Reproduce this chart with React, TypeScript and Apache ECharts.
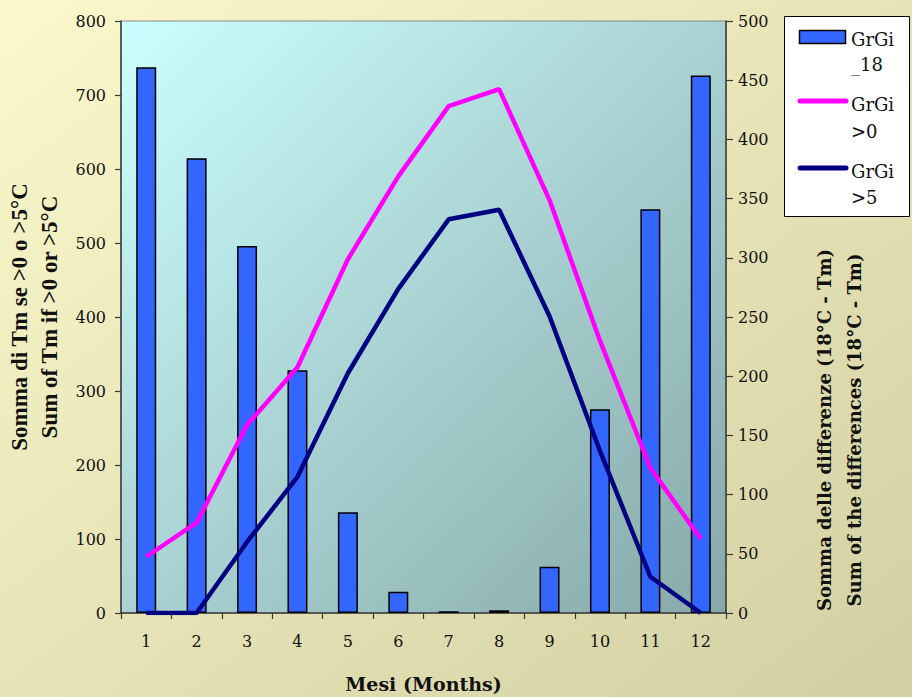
import React, { useEffect, useRef } from "react";
import * as echarts from "echarts";

const months = ["1", "2", "3", "4", "5", "6", "7", "8", "9", "10", "11", "12"];
// GrGi_18 : sum of (18°C - Tm), right axis
const grgi18 = [461, 384, 310, 205, 85, 18, 1.5, 2.3, 39, 172, 341, 454];
// GrGi>0 : sum of Tm if > 0, left axis
const grgiGt0 = [76, 122, 254, 332, 478, 590, 685, 708, 558, 368, 196, 100];
// GrGi>5 : sum of Tm if > 5, left axis
const grgiGt5 = [0, 0, 96, 184, 324, 438, 532, 545, 401, 219, 49, 0];

const leftTitle = ["Somma di Tm se >0 o >5°C", "Sum of Tm if >0 or >5°C"];
const rightTitle = ["Somma delle differenze (18°C - Tm)", "Sum of the differences (18°C - Tm)"];
const xTitle = "Mesi (Months)";
const legendNames = [["GrGi", "_18"], ["GrGi", ">0"], ["GrGi", ">5"]];

const SERIF = "'DejaVu Serif', serif";
const TIMES = "'Liberation Serif', serif";

export default function App() {
  const ref = useRef<HTMLDivElement>(null);
  useEffect(() => {
    document.body.style.margin = "0";
    const chart = echarts.init(ref.current!, null, { renderer: "svg" });
    const axisLine = { show: true, lineStyle: { color: "#3a3a3a", width: 1.5 } };
    const tick = { show: true, length: 6, lineStyle: { color: "#3a3a3a", width: 1.2 } };
    const labelStyle = { color: "#111", fontFamily: SERIF, fontSize: 16 };
    const legendText = (t: string, y: number) => ({
      type: "text",
      x: 851,
      y,
      style: { text: t, font: `18px ${SERIF}`, fill: "#111", verticalAlign: "middle" },
    });
    chart.setOption({
      animation: false,
      backgroundColor: new echarts.graphic.LinearGradient(0, 0, 1, 1, [
        { offset: 0, color: "#FBF9CC" },
        { offset: 1, color: "#D2CFA2" },
      ]),
      grid: {
        left: 121,
        top: 21,
        right: 186,
        bottom: 84,
        containLabel: false,
        outerBoundsMode: "none",
        show: true,
        borderColor: "#888",
        borderWidth: 1,
        backgroundColor: new echarts.graphic.LinearGradient(0, 0, 1, 1, [
          { offset: 0, color: "#CCFFFF" },
          { offset: 0.5, color: "#AAD2D2" },
          { offset: 1, color: "#86A8A8" },
        ]),
      },
      xAxis: {
        type: "category",
        data: months,
        boundaryGap: true,
        axisLine,
        axisTick: tick,
        axisLabel: { ...labelStyle, margin: 20 },
        name: xTitle,
        nameLocation: "middle",
        nameGap: 59,
        nameTextStyle: { color: "#111", fontFamily: SERIF, fontSize: 19, fontWeight: "bold", lineHeight: 24 },
        splitLine: { show: false },
      },
      yAxis: [
        {
          type: "value",
          min: 0,
          max: 800,
          interval: 100,
          position: "left",
          axisLine,
          axisTick: tick,
          axisLabel: { ...labelStyle, margin: 15 },
          splitLine: { show: false },
          name: leftTitle.join("\n"),
          nameLocation: "middle",
          nameRotate: 90,
          nameGap: 54,
          nameTextStyle: { color: "#111", fontFamily: TIMES, fontSize: 23, fontWeight: "bold", lineHeight: 30 },
        },
        {
          type: "value",
          min: 0,
          max: 500,
          interval: 50,
          position: "right",
          axisLine,
          axisTick: { ...tick, length: 7 },
          axisLabel: { ...labelStyle, margin: 12 },
          splitLine: { show: false },
        },
      ],
      graphic: [
        {
          type: "text",
          x: 839,
          y: 430,
          rotation: Math.PI / 2,
          style: {
            text: rightTitle.join("\n"),
            fill: "#111",
            font: `bold 18px ${SERIF}`,
            lineHeight: 30,
            align: "center",
            verticalAlign: "middle",
          },
        },
        { type: "rect", shape: { x: 784.5, y: 16.5, width: 125, height: 200 }, style: { fill: "#fff", stroke: "#000", lineWidth: 1 } },
        { type: "rect", shape: { x: 799.5, y: 30.5, width: 46, height: 13 }, style: { fill: "#3366FF", stroke: "#000", lineWidth: 1.5 } },
        { type: "line", shape: { x1: 800, y1: 101, x2: 846, y2: 101 }, style: { stroke: "#FF00FF", lineWidth: 5, lineCap: "round" } },
        { type: "line", shape: { x1: 800, y1: 168, x2: 846, y2: 168 }, style: { stroke: "#000080", lineWidth: 5, lineCap: "round" } },
        legendText(legendNames[0][0], 39),
        legendText(legendNames[0][1], 64),
        legendText(legendNames[1][0], 104),
        legendText(legendNames[1][1], 131),
        legendText(legendNames[2][0], 171),
        legendText(legendNames[2][1], 197),
      ],
      series: [
        {
          name: "GrGi_18",
          type: "bar",
          yAxisIndex: 1,
          data: grgi18,
          barWidth: 20,
          itemStyle: { color: "#3366FF", borderColor: "#000", borderWidth: 1.5 },
        },
        {
          name: "GrGi>0",
          type: "line",
          yAxisIndex: 0,
          data: grgiGt0,
          symbol: "none",
          lineStyle: { color: "#FF00FF", width: 4.5 },
          itemStyle: { color: "#FF00FF" },
        },
        {
          name: "GrGi>5",
          type: "line",
          yAxisIndex: 0,
          data: grgiGt5,
          symbol: "none",
          lineStyle: { color: "#000080", width: 4.5 },
          itemStyle: { color: "#000080" },
        },
      ],
    });
    return () => chart.dispose();
  }, []);
  return <div ref={ref} style={{ position: "fixed", left: 0, top: 0, width: 912, height: 697 }} />;
}
